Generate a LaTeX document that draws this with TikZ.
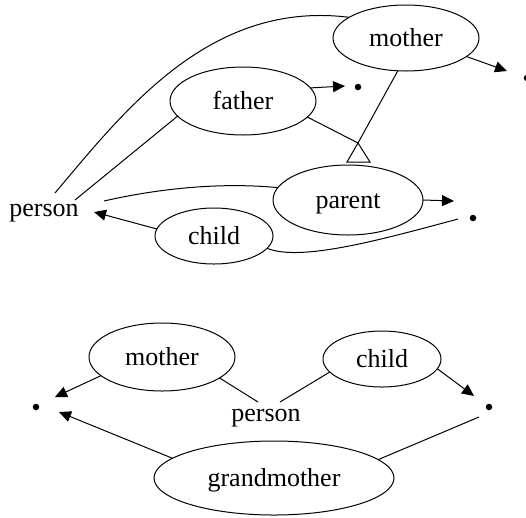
\documentclass[tikz,border=0pt]{standalone}
\usepackage{fontspec}
\setmainfont{Liberation Serif}
\usetikzlibrary{shapes.geometric,arrows.meta,calc}
\begin{document}
\begin{tikzpicture}[x=1pt,y=-1pt,
  txt/.style={font=\fontsize{26}{30}\selectfont, text height=17pt, text depth=0pt,
              inner sep=0pt, outer sep=0pt},
  cls/.style={txt, draw, ellipse, line width=1pt},
  dotnode/.style={circle, fill, inner sep=0pt, outer sep=0pt, minimum size=6.5pt,
                  text height=0pt, text depth=0pt},
  link/.style={line width=1pt},
  arr/.style={link, -{Triangle[length=12pt,width=11pt]}},
]
\useasboundingbox (0,0) rectangle (526,517);

% ---------- upper diagram ----------
\node[cls, minimum width=146pt, minimum height=66pt] (m1) at (406,38) {mother};
\node[cls, minimum width=146pt, minimum height=68pt] (f1) at (243,101) {father};
\node[cls, minimum width=150pt, minimum height=70pt] (p1) at (348,200) {parent};
\node[cls, minimum width=118pt, minimum height=56pt] (c1) at (214,236) {child};
\node[txt] (per1) at (44,208) {person};
\node[dotnode] (d1) at (358,87) {};
\node[dotnode] (d2) at (473,218) {};
\node[dotnode] (d3) at (527,78) {};
\coordinate (isa) at (358,143);

\draw[link] ($(per1)+(11,-15)$) .. controls (125,110) and (210,0) .. (m1.160);
\draw[link] ($(per1)+(31,-8)$) -- (f1.193);
\draw[link] ($(per1)+(60,-7)$) .. controls (170,186) and (230,183) .. (p1.170);
\draw[arr] (c1.173) -- ($(per1)+(50,4)$);
\draw[link] (c1.347) .. controls (300,262) and (380,240) .. ($(d2)+(-15,1)$);
\draw[arr] (p1.0) -- ($(d2)+(-19,-17)$);
\draw[arr] (f1.11) -- ($(d1)+(-13,-1)$);
\draw[arr] (m1.343) -- ($(d3)+(-20,-7)$);
\draw[link] (m1.256) -- (isa);
\draw[link] (f1.346) -- (isa);
\draw[link, fill=white] (isa) -- ++(-11,19) -- ++(23,0) -- cycle;

% ---------- lower diagram ----------
\node[cls, minimum width=146pt, minimum height=68pt] (m2) at (162,357) {mother};
\node[cls, minimum width=118pt, minimum height=56pt] (c2) at (382,359) {child};
\node[cls, minimum width=240pt, minimum height=74pt] (g2) at (274,478) {grandmother};
\node[txt] (per2) at (266,413) {person};
\node[dotnode] (e1) at (36,407) {};
\node[dotnode] (e2) at (489,407) {};

\draw[arr] (m2.197) -- ($(e1)+(19,-10)$);
\draw[link] (m2.340) -- ($(per2)+(-8,-11)$);
\draw[link] (c2.194) -- ($(per2)+(14,-11)$);
\draw[arr] (c2.350) -- ($(e2)+(-15,-11)$);
\draw[arr] (g2.169) -- ($(e1)+(23,5)$);
\draw[link] (g2.10) -- ($(e2)+(-10,10)$);
\end{tikzpicture}
\end{document}
